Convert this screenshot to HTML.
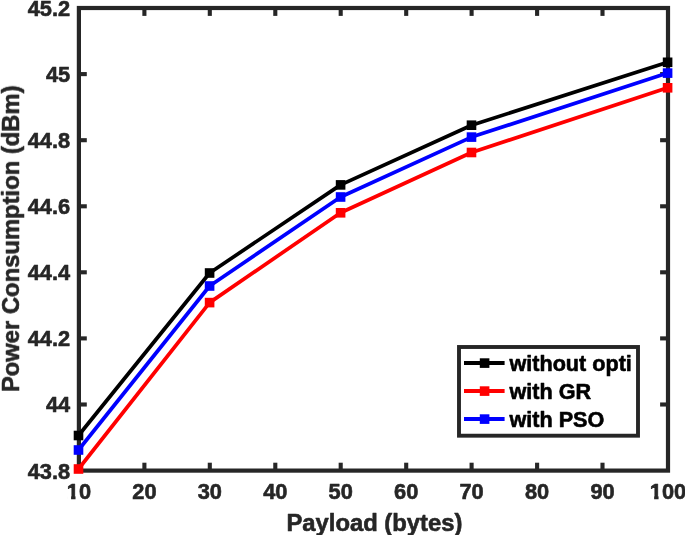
<!DOCTYPE html>
<html><head><meta charset="utf-8"><title>Chart</title><style>html,body{margin:0;padding:0;background:#fff}</style></head><body>
<svg width="685" height="535" viewBox="0 0 685 535" style="display:block;will-change:transform">
<rect width="685" height="535" fill="#fff"/>
<g stroke="#262626" stroke-width="4.1"><line x1="144.4" y1="470.6" x2="144.4" y2="462.70000000000005"/><line x1="144.4" y1="8.0" x2="144.4" y2="15.9"/><line x1="209.8" y1="470.6" x2="209.8" y2="462.70000000000005"/><line x1="209.8" y1="8.0" x2="209.8" y2="15.9"/><line x1="275.3" y1="470.6" x2="275.3" y2="462.70000000000005"/><line x1="275.3" y1="8.0" x2="275.3" y2="15.9"/><line x1="340.7" y1="470.6" x2="340.7" y2="462.70000000000005"/><line x1="340.7" y1="8.0" x2="340.7" y2="15.9"/><line x1="406.2" y1="470.6" x2="406.2" y2="462.70000000000005"/><line x1="406.2" y1="8.0" x2="406.2" y2="15.9"/><line x1="471.6" y1="470.6" x2="471.6" y2="462.70000000000005"/><line x1="471.6" y1="8.0" x2="471.6" y2="15.9"/><line x1="537.1" y1="470.6" x2="537.1" y2="462.70000000000005"/><line x1="537.1" y1="8.0" x2="537.1" y2="15.9"/><line x1="602.5" y1="470.6" x2="602.5" y2="462.70000000000005"/><line x1="602.5" y1="8.0" x2="602.5" y2="15.9"/><line x1="78.9" y1="404.5" x2="86.80000000000001" y2="404.5"/><line x1="668.0" y1="404.5" x2="660.1" y2="404.5"/><line x1="78.9" y1="338.4" x2="86.80000000000001" y2="338.4"/><line x1="668.0" y1="338.4" x2="660.1" y2="338.4"/><line x1="78.9" y1="272.3" x2="86.80000000000001" y2="272.3"/><line x1="668.0" y1="272.3" x2="660.1" y2="272.3"/><line x1="78.9" y1="206.3" x2="86.80000000000001" y2="206.3"/><line x1="668.0" y1="206.3" x2="660.1" y2="206.3"/><line x1="78.9" y1="140.2" x2="86.80000000000001" y2="140.2"/><line x1="668.0" y1="140.2" x2="660.1" y2="140.2"/><line x1="78.9" y1="74.1" x2="86.80000000000001" y2="74.1"/><line x1="668.0" y1="74.1" x2="660.1" y2="74.1"/></g>
<rect x="78.9" y="8.0" width="589.1" height="462.6" fill="none" stroke="#262626" stroke-width="4.2"/>
<polyline points="78.5,435.5 209.6,273.0 340.6,184.9 471.5,125.2 667.6,62.3" fill="none" stroke="#000" stroke-width="3.7" stroke-linejoin="round"/>
<rect x="73.70" y="430.70" width="9.6" height="9.6" fill="#000"/>
<rect x="204.80" y="268.20" width="9.6" height="9.6" fill="#000"/>
<rect x="335.80" y="180.10" width="9.6" height="9.6" fill="#000"/>
<rect x="466.70" y="120.40" width="9.6" height="9.6" fill="#000"/>
<rect x="662.80" y="57.50" width="9.6" height="9.6" fill="#000"/>
<polyline points="78.5,469.0 209.6,302.6 340.6,212.8 471.5,152.5 667.6,87.8" fill="none" stroke="#f00" stroke-width="3.7" stroke-linejoin="round"/>
<rect x="73.70" y="464.20" width="9.6" height="9.6" fill="#f00"/>
<rect x="204.80" y="297.80" width="9.6" height="9.6" fill="#f00"/>
<rect x="335.80" y="208.00" width="9.6" height="9.6" fill="#f00"/>
<rect x="466.70" y="147.70" width="9.6" height="9.6" fill="#f00"/>
<rect x="662.80" y="83.00" width="9.6" height="9.6" fill="#f00"/>
<polyline points="78.5,450.0 209.6,286.0 340.6,197.0 471.5,137.1 667.6,73.1" fill="none" stroke="#00f" stroke-width="3.7" stroke-linejoin="round"/>
<rect x="73.70" y="445.20" width="9.6" height="9.6" fill="#00f"/>
<rect x="204.80" y="281.20" width="9.6" height="9.6" fill="#00f"/>
<rect x="335.80" y="192.20" width="9.6" height="9.6" fill="#00f"/>
<rect x="466.70" y="132.30" width="9.6" height="9.6" fill="#00f"/>
<rect x="662.80" y="68.30" width="9.6" height="9.6" fill="#00f"/>
<g font-family="Liberation Sans, Arial, Helvetica, sans-serif" font-weight="bold" fill="#262626" stroke="#262626" stroke-width="0.6" stroke-linejoin="round" opacity="0.999" font-size="21.8">
<text x="78.9" y="499.2" text-anchor="middle">10</text><text x="144.4" y="499.2" text-anchor="middle">20</text><text x="209.8" y="499.2" text-anchor="middle">30</text><text x="275.3" y="499.2" text-anchor="middle">40</text><text x="340.7" y="499.2" text-anchor="middle">50</text><text x="406.2" y="499.2" text-anchor="middle">60</text><text x="471.6" y="499.2" text-anchor="middle">70</text><text x="537.1" y="499.2" text-anchor="middle">80</text><text x="602.5" y="499.2" text-anchor="middle">90</text><text x="668.0" y="499.2" text-anchor="middle">100</text><text x="70.2" y="478.5" text-anchor="end">43.8</text><text x="70.2" y="412.4" text-anchor="end">44</text><text x="70.2" y="346.3" text-anchor="end">44.2</text><text x="70.2" y="280.2" text-anchor="end">44.4</text><text x="70.2" y="214.2" text-anchor="end">44.6</text><text x="70.2" y="148.1" text-anchor="end">44.8</text><text x="70.2" y="82.0" text-anchor="end">45</text><text x="70.2" y="15.9" text-anchor="end">45.2</text></g>
<rect x="67.08" y="495.6" width="4.0" height="4.6" fill="#fff"/><rect x="75.53" y="495.6" width="4.2" height="4.6" fill="#fff"/><rect x="650.12" y="495.6" width="4.0" height="4.6" fill="#fff"/><rect x="658.57" y="495.6" width="4.2" height="4.6" fill="#fff"/>
<g font-family="Liberation Sans, Arial, Helvetica, sans-serif" font-weight="bold" fill="#262626" stroke="#262626" stroke-width="0.6" stroke-linejoin="round" opacity="0.999" font-size="23.8">
<text x="374.4" y="530.6" text-anchor="middle">Payload (bytes)</text><text transform="translate(19.0,238.8) rotate(-90)" text-anchor="middle">Power Consumption (dBm)</text></g>
<rect x="459.0" y="347" width="179.0" height="88.7" fill="#fff" stroke="#262626" stroke-width="3.9"/>
<line x1="464" y1="363.1" x2="504.6" y2="363.1" stroke="#000" stroke-width="4"/><rect x="479.8" y="358.3" width="9.6" height="9.6" fill="#000"/><text x="509.5" y="370.7" font-family="Liberation Sans, Arial, Helvetica, sans-serif" font-weight="bold" font-size="21.6" fill="#000" stroke="#000" stroke-width="0.6" stroke-linejoin="round" opacity="0.999">without opti</text>
<line x1="464" y1="391.1" x2="504.6" y2="391.1" stroke="#f00" stroke-width="4"/><rect x="479.8" y="386.3" width="9.6" height="9.6" fill="#f00"/><text x="509.5" y="398.7" font-family="Liberation Sans, Arial, Helvetica, sans-serif" font-weight="bold" font-size="21.6" fill="#000" stroke="#000" stroke-width="0.6" stroke-linejoin="round" opacity="0.999">with GR</text>
<line x1="464" y1="419.1" x2="504.6" y2="419.1" stroke="#00f" stroke-width="4"/><rect x="479.8" y="414.3" width="9.6" height="9.6" fill="#00f"/><text x="509.5" y="426.7" font-family="Liberation Sans, Arial, Helvetica, sans-serif" font-weight="bold" font-size="21.6" fill="#000" stroke="#000" stroke-width="0.6" stroke-linejoin="round" opacity="0.999">with PSO</text>
</svg>
</body></html>
